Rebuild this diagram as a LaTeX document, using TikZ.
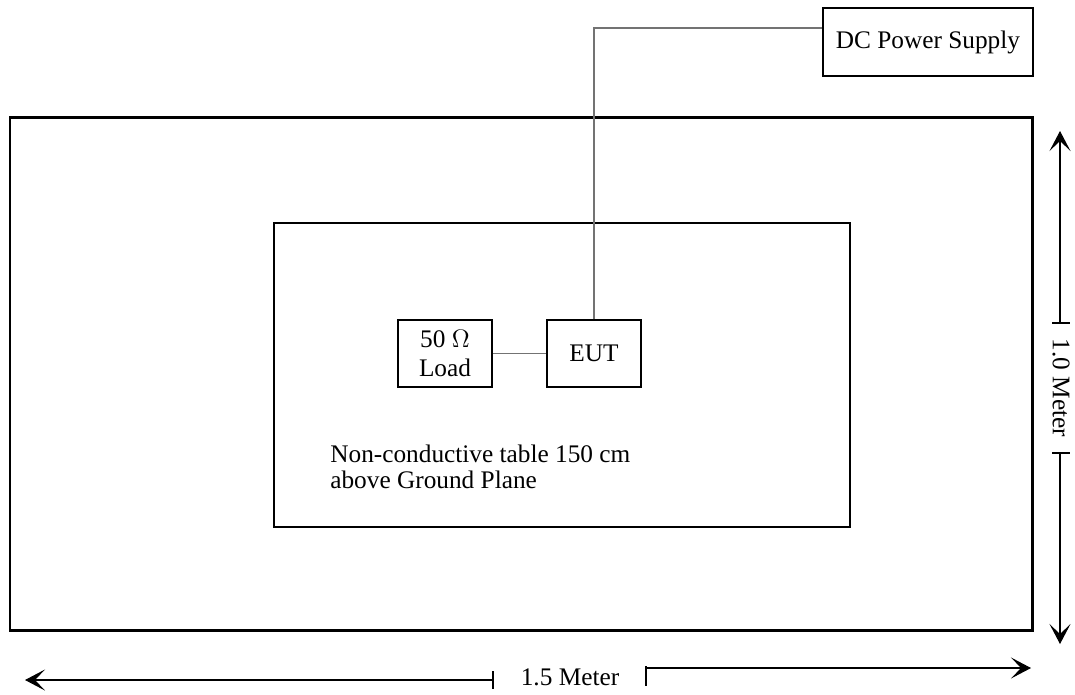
\documentclass[tikz,border=0pt]{standalone}
\usepackage{fontspec}
\setmainfont{Liberation Serif}
\usetikzlibrary{arrows.meta}
\begin{document}
\begin{tikzpicture}[x=0.02cm, y=-0.02cm,
    every node/.style={font=\fontsize{14.4}{16}\selectfont},
    box/.style={draw, line width=0.8pt, inner sep=0pt, align=center},
    wire/.style={draw=black!55, line width=0.6pt},
    dimline/.style={line width=0.6pt, -{Stealth[length=4mm, width=4.2mm, inset=2mm]}}]
    \useasboundingbox (0,0) rectangle (1075,694);

    % Ground plane and table
    \draw[line width=1.7pt] (10,117) rectangle (1032,630);
    \draw[line width=1.1pt] (274,223) rectangle (850,527);
    \node[anchor=west, align=left, inner sep=0pt, font=\fontsize{14.4}{14.6}\selectfont]
        (tabletext) at (330,467) {Non-conductive table 150 cm\\above Ground Plane};

    % Boxes
    \node[box, minimum width=1.88cm, minimum height=1.34cm, font=\fontsize{14.4}{16.5}\selectfont]
        (load) at (445,353.5) {50 $\Omega$\\Load};
    \node[box, minimum width=1.88cm, minimum height=1.34cm] (eut) at (594,353.5) {EUT};
    \node[box, minimum width=4.2cm, minimum height=1.36cm] (supply) at (928,42) {DC Power Supply};

    % Wires
    \draw[wire] (load) -- (eut);
    \draw[wire] (eut.north) |- ([yshift=2.8mm]supply.west);

    % 1.0 Meter
    \node[rotate=-90, inner sep=0pt] (vlabel) at (1061,388) {1.0 Meter};
    \coordinate (vtop) at (1060,323);
    \coordinate (vbot) at (1060,453);
    \draw[line width=0.6pt] (1052,323) -- (1070,323);
    \draw[line width=0.6pt] (1052,453) -- (1070,453);
    \draw[dimline] (vtop) -- (1060,131);
    \draw[dimline] (vbot) -- (1060,644);

    % 1.5 Meter
    \node[inner sep=0pt] (hlabel) at (570,677) {1.5 Meter};
    \coordinate (hleft) at (493,680);
    \coordinate (hright) at (646,668);
    \draw[line width=0.6pt] (493,671) -- (493,689);
    \draw[line width=0.6pt] (646,666) -- (646,686);
    \draw[dimline] (hleft) -- (25,680);
    \draw[dimline] (hright) -- (1031,668);
\end{tikzpicture}
\end{document}
